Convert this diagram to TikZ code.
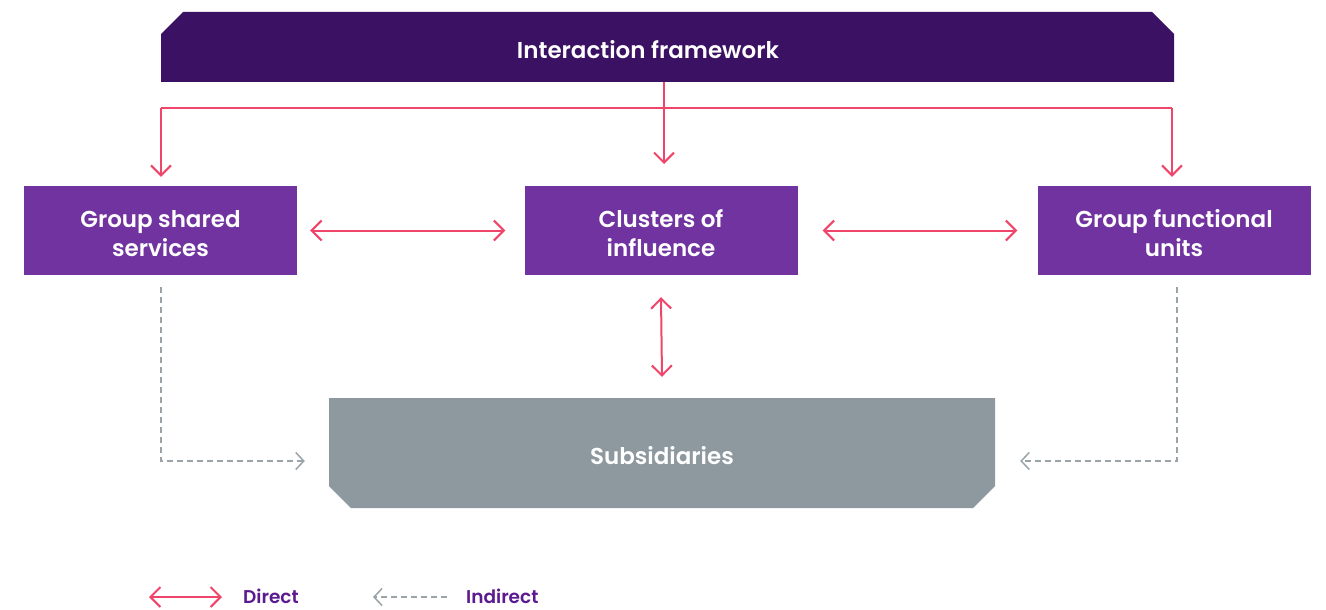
\documentclass[tikz,border=0pt]{standalone}
\usepackage{fontspec}
\setmainfont{Poppins}[BoldFont={Poppins SemiBold}]
\usetikzlibrary{arrows.meta}
\definecolor{darkpurple}{HTML}{3B1163}
\definecolor{midpurple}{HTML}{7033A0}
\definecolor{slategrey}{HTML}{8E999F}
\definecolor{arrowred}{HTML}{F0456A}
\definecolor{dashgrey}{HTML}{9AA3A8}
\definecolor{legendpurple}{HTML}{5B1A8F}
\tikzset{
  x=1pt,y=-1pt,
  boxtext/.style={font=\fontsize{23}{29}\selectfont\bfseries,text=white,align=center,inner sep=0pt},
  purplebox/.style={boxtext,fill=midpurple,minimum width=273pt,minimum height=89pt},
  direct/.style={draw=arrowred,line width=2pt,arrows={-Straight Barb[length=10pt,width=20pt]}},
  directboth/.style={draw=arrowred,line width=2pt,arrows={Straight Barb[length=10pt,width=20pt]-Straight Barb[length=10pt,width=20pt]}},
  indirect/.style={draw=dashgrey,line width=1.5pt,dash pattern=on 6pt off 4pt,arrows={-Straight Barb[length=8pt,width=17pt]}},
  legendtext/.style={font=\fontsize{18.5}{20}\selectfont\bfseries,text=legendpurple,anchor=west,inner sep=0pt}
}
\begin{document}
\begin{tikzpicture}
\useasboundingbox (0,0) rectangle (1326,610);
% chamfered shapes
\fill[darkpurple] (161,82) -- (161,34) -- (183,12) -- (1152,12) -- (1174,34) -- (1174,82) -- cycle;
\fill[slategrey] (329,398) -- (995,398) -- (995,486) -- (973,508) -- (351,508) -- (329,486) -- cycle;
\node[boxtext,minimum width=1013pt,minimum height=70pt] (top) at (667.5,47) {};
\node[boxtext] (toptext) at (648,50) {Interaction framework};
\node[boxtext,minimum width=666pt,minimum height=110pt] (sub) at (662,453) {};
\node[boxtext] (subtext) at (662,456) {Subsidiaries};
\node[purplebox] (gss) at (160.5,230.5) {};
\node[purplebox] (coi) at (661,230.5) {};
\node[purplebox] (gfu) at (1174,230.5) {};
\node[boxtext] (gsstext) at (160.5,233.5) {Group shared\\services};
\node[boxtext] (coitext) at (661,233.5) {Clusters of\\influence};
\node[boxtext] (gfutext) at (1174,233.5) {Group functional\\units};
% top connectors
\coordinate (tdrop) at (664,82);
\coordinate (tend) at (664,164);
\coordinate (lcorner) at (161,108);
\coordinate (rcorner) at (1172,108);
\draw[direct] (tdrop) -- (tend);
\draw[direct] (lcorner) -- ([yshift=9pt]lcorner |- gss.north);
\draw[direct] (rcorner) -- ([yshift=9pt]rcorner |- gfu.north);
\draw[draw=arrowred,line width=2pt] (lcorner) -- (rcorner);
% double arrows
\draw[directboth] ([xshift=13pt]gss.east) -- ([xshift=-19pt]coi.west);
\draw[directboth] ([xshift=25pt]coi.east) -- ([xshift=-20pt]gfu.west);
\draw[directboth] ([yshift=-22pt]coi.south) -- ([yshift=21pt]sub.north);
% indirect
\coordinate (gssd) at (161,287);
\coordinate (gfud) at (1177,287);
\draw[indirect] (gssd) |- ([xshift=-24pt,yshift=-8pt]sub.west);
\draw[indirect] (gfud) |- ([xshift=25pt,yshift=-8pt]sub.east);
% legend
\coordinate (la) at (149,597);
\coordinate (lb) at (222,597);
\draw[directboth] (la) -- (lb);
\node[legendtext] (ld) at (243,596.5) {Direct};
\coordinate (lc) at (447,597);
\coordinate (ldd) at (373,597);
\draw[indirect] (lc) -- (ldd);
\node[legendtext] (li) at (466,596.5) {Indirect};
\end{tikzpicture}
\end{document}
